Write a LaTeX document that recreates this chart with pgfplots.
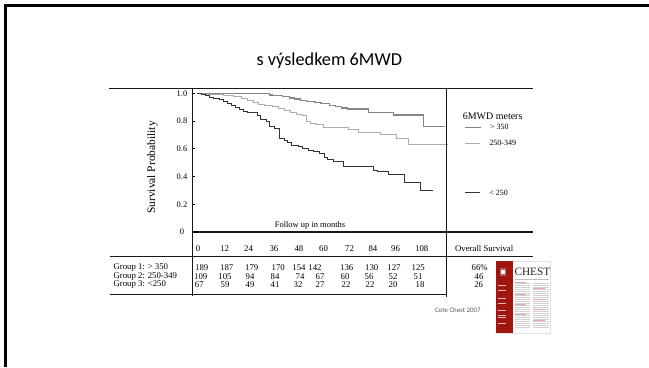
\documentclass[border=0pt]{standalone}
\usepackage{pgfplots}
\pgfplotsset{compat=1.18}
\usepackage{fontspec}
\setmainfont{Liberation Serif}
\newfontfamily\carlito{Carlito}
\definecolor{gA}{HTML}{858585}
\definecolor{gB}{HTML}{ABABAB}
\definecolor{gC}{HTML}{333333}
\definecolor{chestred}{HTML}{A0160E}
\newcommand{\fs}[1]{\fontsize{#1}{#1}\selectfont}
\begin{document}
\begin{tikzpicture}[x=1bp,y=1bp]
\useasboundingbox (0,0) rectangle (649,367);
\fill[white] (0,0) rectangle (649,367);
\draw[line width=2.4bp, black] (5.5,0) -- (5.5,361.5) -- (649,361.5);
\node[font=\carlito\fs{18.3}, anchor=base, inner sep=0] at (329.3,302) {s výsledkem 6MWD};

\begin{axis}[
  at={(192.3bp,135bp)}, anchor=south west,
  x=2.0333bp, y=138.5bp,
  xmin=-2.31, xmax=165.25, ymin=0, ymax=1.0375,
  axis lines=left, axis line style={draw=none},
  xtick=\empty,
  ytick={0,0.2,0.4,0.6,0.8,1},
  yticklabels={0,0.2,0.4,0.6,0.8,1.0},
  tick align=inside, major tick length=3bp,
  tick style={black, line width=0.8bp},
  yticklabel style={anchor=center, xshift=-10.3bp, font=\fs{8.5}},
  /pgf/number format/assume math mode=true,
]
% Group 1: > 350
\addplot[const plot, gA, line width=1.3bp] coordinates {
(0,1.0) (35.5,0.99) (37,0.984) (42,0.978) (45.5,0.968) (48,0.96) (51,0.95)
(54,0.941) (58,0.935) (61,0.928) (65,0.915) (68,0.905) (71,0.895) (74,0.887)
(84.3,0.862) (96.5,0.845) (111.5,0.76) (122,0.76)};
% Group 2: 250-349
\addplot[const plot, gB, line width=1bp] coordinates {
(0,1.0) (3,0.995) (8,0.99) (13,0.984) (18,0.975) (22,0.962) (25,0.95) (28,0.935)
(30,0.92) (33,0.912) (37,0.905) (40,0.893) (43,0.88) (46,0.862) (49,0.85)
(52,0.84) (54,0.8) (56,0.785) (59,0.775) (62,0.756) (74.5,0.738) (79.5,0.722)
(90,0.705) (98,0.677) (104,0.633) (123.5,0.633)};
% Group 3: < 250
\addplot[const plot, gC, line width=0.9bp] coordinates {
(0,1.0) (2,0.995) (4,0.985) (6,0.975) (8,0.965) (11,0.955) (13,0.945) (15,0.93)
(17,0.917) (19,0.9) (21,0.882) (23,0.87) (25,0.862) (29.5,0.84) (31,0.81)
(34,0.8) (35.5,0.76) (38,0.75) (40.5,0.675) (43,0.66) (44.5,0.645) (46.5,0.628)
(50,0.62) (52,0.605) (55,0.59) (57.5,0.578) (60,0.565) (62.5,0.535) (64,0.525)
(67,0.508) (72,0.472) (87,0.448) (88.5,0.44) (94,0.412) (101.8,0.355)
(109.7,0.3) (116,0.3)};
\end{axis}

% frame lines
\begin{scope}[line width=1.1bp, black!90]
\draw (109,278.7) -- (533,278.7);
\draw (192.3,135) -- (533,135);
\draw (109.5,110.3) -- (533,110.3);
\draw (109.5,72.7) -- (446.7,72.7);
\draw (192.3,278.7) -- (192.3,71.5);
\draw (446.7,278.7) -- (446.7,70);
\end{scope}
\draw[line width=2bp, black] (192.3,135) -- (198.3,135);

\node[rotate=90, font=\fs{11.5}] at (152.5,199.5) {Survival Probability};
\node[font=\fs{8.5}] at (310,142) {Follow up in months};

% legend
\node[anchor=west, inner sep=0, font=\fs{10}] at (462.7,250.3) {6MWD meters};
\draw[gA, line width=1.2bp] (465,239.7) -- (480.7,239.7);
\node[anchor=west, inner sep=0, font=\fs{8}] at (490,239.7) {> 350};
\draw[gB, line width=1bp] (465,223.7) -- (480,223.7);
\node[anchor=west, inner sep=0, font=\fs{8}] at (489.3,223.7) {250-349};
\draw[gC, line width=0.9bp] (465,174.3) -- (480,174.3);
\node[anchor=west, inner sep=0, font=\fs{8}] at (489.3,174.3) {< 250};

% table header
\foreach \xx/\lab in {195.7/0, 220/12, 244/24, 269.3/36, 294.3/48, 319/60, 345/72, 368.3/84, 391/96, 415/108}
  \node[anchor=west, inner sep=0, font=\fs{8.8}] at (\xx,118.7) {\lab};
\node[font=\fs{8.8}] at (484.2,118.7) {Overall Survival};

% table rows
\begin{scope}[every node/.style={font=\fs{8.8}, inner sep=0}]
\node[anchor=west] at (113.3,99.3) {Group 1: > 350};
\node[anchor=west] at (113.3,90.3) {Group 2: 250-349};
\node[anchor=west] at (113.3,82) {Group 3: <250};
\foreach \xx/\v in {201.7/189, 226.7/187, 251.7/179, 278.3/170, 299/154, 315/142, 346.7/136, 371.7/130, 394/127, 418.3/125}
  \node at (\xx,99.3) {\v};
\foreach \xx/\v in {200.7/109, 225/105, 250/94, 275/84, 300/74, 320/67, 345/60, 369/56, 393/52, 418/51}
  \node at (\xx,90.3) {\v};
\foreach \xx/\v in {199.3/67, 225/59, 250/49, 275/41, 298/32, 320/27, 346/22, 370/22, 393/20, 420/18}
  \node at (\xx,82) {\v};
\node at (479.7,99.3) {66\%};
\node at (479,90.3) {46};
\node at (478.7,82) {26};
\end{scope}

\node[font=\carlito\fs{6.9}, text=black!65, inner sep=0] at (457.8,57) {Cote Chest 2007};

% journal cover thumbnail
\fill[white] (496,34.3) rectangle (550,106.3);
\draw[black!12, line width=0.4bp] (496,34.3) rectangle (550,106.3);
\fill[chestred] (496,34.3) rectangle (512.7,106.3);
\fill[chestred!70!white] (499.5,91) rectangle (505.8,99);
\fill[white] (500.8,93) rectangle (504.5,97);
\foreach \yy in {82,77,69,64,57,52,50,44}
  \draw[white!70!chestred, line width=0.4bp] (498,\yy) -- (505.5,\yy);
\node[anchor=west, inner sep=0, font=\fs{11.3}, text=black!85] at (514.3,95.3) {CHEST};
\draw[black!25, line width=0.3bp] (514.5,88) -- (549,88);
\foreach \yy in {84,82,80,78,76,74,72,70,68,66,64,62,60,58,56,54,52,50,48,46,44,42,40}
  {\draw[black!18, line width=0.5bp] (514.5,\yy) -- (529.5,\yy);
   \draw[black!18, line width=0.5bp] (532.5,\yy) -- (548.5,\yy);}
\foreach \yy in {85,73,63,53}
  \draw[chestred!35, line width=0.5bp] (514.5,\yy) -- (526,\yy);
\foreach \yy in {79,68,58,47}
  \draw[chestred!35, line width=0.5bp] (532.5,\yy) -- (545,\yy);
\end{tikzpicture}
\end{document}
